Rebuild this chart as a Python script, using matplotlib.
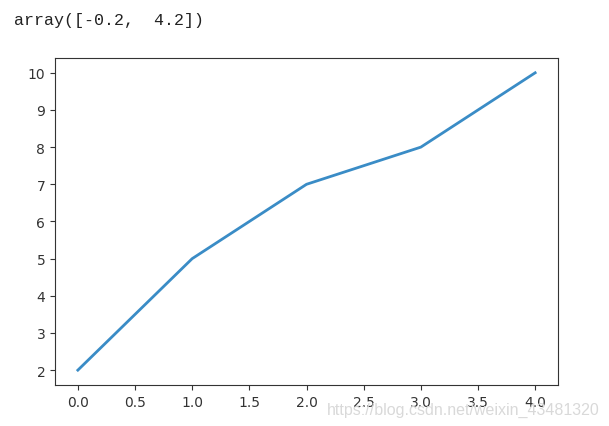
import matplotlib.pyplot as plt

# --- data ---
x = [0, 1, 2, 3, 4]
y = [2, 5, 7, 8, 10]
xlim_text = "array([-0.2,  4.2])"
watermark = "https://blog.csdn.net/weixin_43481320"

fig = plt.figure(figsize=(6.09, 4.27), dpi=100)
ax = fig.add_axes([0.0903, 0.096, 0.826, 0.766])
ax.plot(x, y, color="#3a8cc6", linewidth=2)
ax.set_xlim(-0.2, 4.2)
ax.set_ylim(1.6, 10.4)
ax.set_xticks([0.0, 0.5, 1.0, 1.5, 2.0, 2.5, 3.0, 3.5, 4.0])
ax.tick_params(labelsize=10, colors="#333333")
for s in ax.spines.values():
    s.set_color("#333333")

# notebook output line above the plot
fig.text(14 / 609, 1 - 20 / 427, xlim_text, family="Liberation Mono",
         fontsize=12, va="center", ha="left", color="#222222")

# watermark (overlaps the tick labels, as in the screenshot)
fig.text(600 / 609, 1 - 410 / 427, watermark, family="Liberation Sans",
         fontsize=11.5, color="#d9d9d9", va="center", ha="right")

fig.savefig("out.png", dpi=100)
